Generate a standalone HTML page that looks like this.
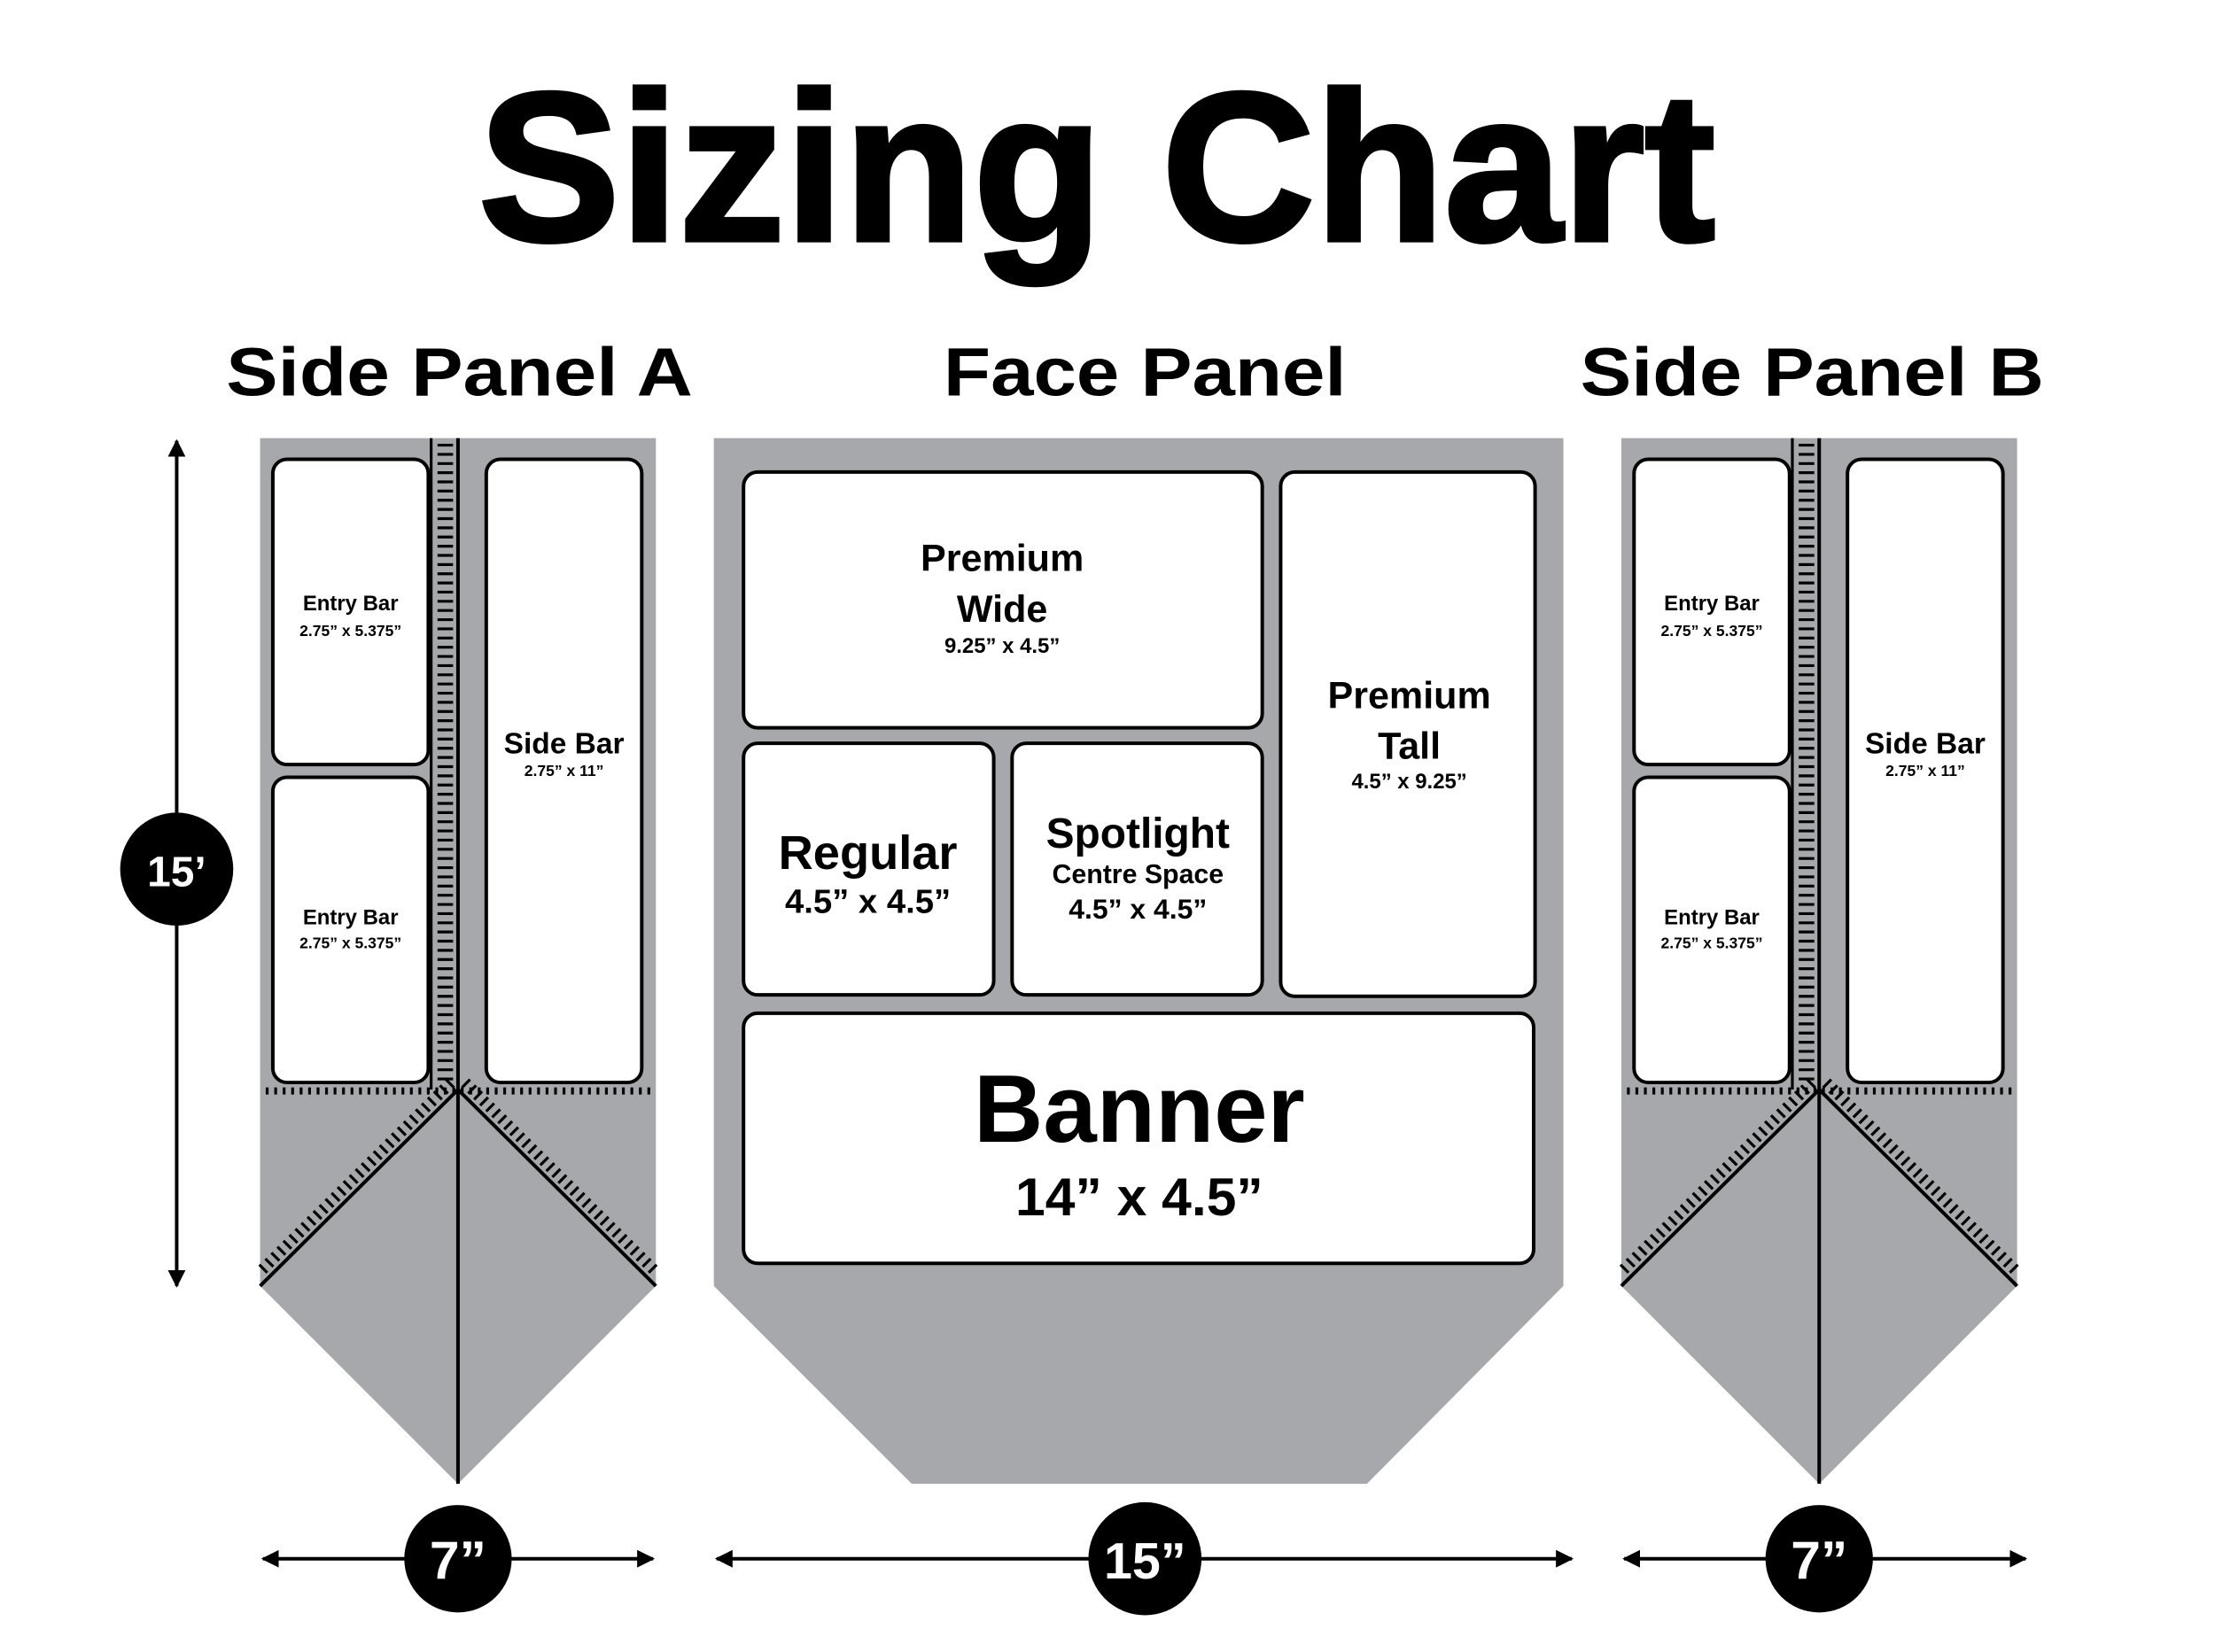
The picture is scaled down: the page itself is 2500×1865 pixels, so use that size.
<!DOCTYPE html>
<html><head><meta charset="utf-8"><style>
html,body{margin:0;padding:0;background:#fff}
svg{display:block}
text{font-family:"Liberation Sans",Arial,sans-serif;font-weight:bold;text-anchor:middle;fill:#000}
.w{fill:#fff}
</style></head><body>
<svg width="2500" height="1865" viewBox="0 0 1567 1169" xmlns="http://www.w3.org/2000/svg">
<defs>
<marker id="ah" viewBox="0 0 10 10" refX="9" refY="5" markerWidth="5" markerHeight="5" orient="auto-start-reverse"><path d="M0,0L10,5L0,10z" fill="#000"/></marker>
<g id="side">
  <path d="M0,0H280V600L140,740L0,600Z" fill="#a7a8ab"/>
  <line x1="121" y1="0" x2="121" y2="461" stroke="#000" stroke-width="2"/>
  <line x1="131" y1="4" x2="131" y2="455" stroke="#000" stroke-width="11" stroke-dasharray="2 4.5"/>
  <line x1="140" y1="0" x2="140" y2="740" stroke="#000" stroke-width="2.5"/>
  <line x1="4" y1="462" x2="280" y2="462" stroke="#000" stroke-width="5" stroke-dasharray="2 4"/>
  <line x1="140" y1="461" x2="0" y2="600" stroke="#000" stroke-width="2.5"/>
  <line x1="140" y1="461" x2="280" y2="600" stroke="#000" stroke-width="2.5"/>
  <line x1="135" y1="456" x2="0" y2="590" stroke="#000" stroke-width="8" stroke-dasharray="2 4"/>
  <line x1="145" y1="456" x2="280" y2="590" stroke="#000" stroke-width="8" stroke-dasharray="2 4"/>
  <rect x="9" y="15" width="110" height="216" rx="10" fill="#fff" stroke="#000" stroke-width="2.5"/>
  <rect x="9" y="240" width="110" height="216" rx="10" fill="#fff" stroke="#000" stroke-width="2.5"/>
  <rect x="160" y="15" width="110" height="441" rx="10" fill="#fff" stroke="#000" stroke-width="2.5"/>
  <text x="64" y="122" font-size="15">Entry Bar</text>
  <text x="64" y="140" font-size="11">2.75” x 5.375”</text>
  <text x="64" y="344" font-size="15">Entry Bar</text>
  <text x="64" y="361" font-size="11">2.75” x 5.375”</text>
  <text x="215" y="223" font-size="21">Side Bar</text>
  <text x="215" y="239" font-size="11">2.75” x 11”</text>
</g>
</defs>
<text x="776" y="170" font-size="150" textLength="875" lengthAdjust="spacingAndGlyphs" stroke="#000" stroke-width="3">Sizing Chart</text>
<text x="325" y="280" font-size="48" textLength="330" lengthAdjust="spacingAndGlyphs">Side Panel A</text>
<text x="810" y="280" font-size="48" textLength="285" lengthAdjust="spacingAndGlyphs">Face Panel</text>
<text x="1282" y="280" font-size="48" textLength="328" lengthAdjust="spacingAndGlyphs">Side Panel B</text>

<use href="#side" x="184" y="310"/>
<use href="#side" x="1147" y="310"/>

<path d="M505,310H1106V910L967,1050H645L505,910Z" fill="#a7a8ab"/>
<g fill="#fff" stroke="#000" stroke-width="2.5">
<rect x="526" y="334" width="367" height="181" rx="10"/>
<rect x="906" y="334" width="180" height="371" rx="10"/>
<rect x="526" y="526" width="177" height="178" rx="10"/>
<rect x="716" y="526" width="177" height="178" rx="10"/>
<rect x="526" y="717" width="559" height="177" rx="10"/>
</g>
<text x="709" y="404" font-size="27">Premium</text>
<text x="709" y="440" font-size="27">Wide</text>
<text x="709" y="462" font-size="15">9.25” x 4.5”</text>
<text x="997" y="501" font-size="27">Premium</text>
<text x="997" y="537" font-size="27">Tall</text>
<text x="997" y="558" font-size="15">4.5” x 9.25”</text>
<text x="614" y="615" font-size="34">Regular</text>
<text x="614" y="646" font-size="24">4.5” x 4.5”</text>
<text x="805" y="600" font-size="30">Spotlight</text>
<text x="805" y="625" font-size="19">Centre Space</text>
<text x="805" y="650" font-size="20">4.5” x 4.5”</text>
<text x="806" y="808" font-size="68">Banner</text>
<text x="806" y="860" font-size="38">14” x 4.5”</text>

<line x1="125" y1="312" x2="125" y2="910" stroke="#000" stroke-width="2.5" marker-start="url(#ah)" marker-end="url(#ah)"/>
<circle cx="125" cy="615" r="40"/>
<text class="w" x="125" y="627" font-size="30">15’</text>

<line x1="186" y1="1103" x2="462" y2="1103" stroke="#000" stroke-width="2.5" marker-start="url(#ah)" marker-end="url(#ah)"/>
<circle cx="324" cy="1103" r="38"/>
<text class="w" x="324" y="1117" font-size="38">7”</text>
<line x1="507" y1="1103" x2="1112" y2="1103" stroke="#000" stroke-width="2.5" marker-start="url(#ah)" marker-end="url(#ah)"/>
<circle cx="810" cy="1103" r="40"/>
<text class="w" x="810" y="1117" font-size="36">15”</text>
<line x1="1149" y1="1103" x2="1433" y2="1103" stroke="#000" stroke-width="2.5" marker-start="url(#ah)" marker-end="url(#ah)"/>
<circle cx="1287" cy="1103" r="38"/>
<text class="w" x="1287" y="1117" font-size="38">7”</text>
</svg>
</body></html>
